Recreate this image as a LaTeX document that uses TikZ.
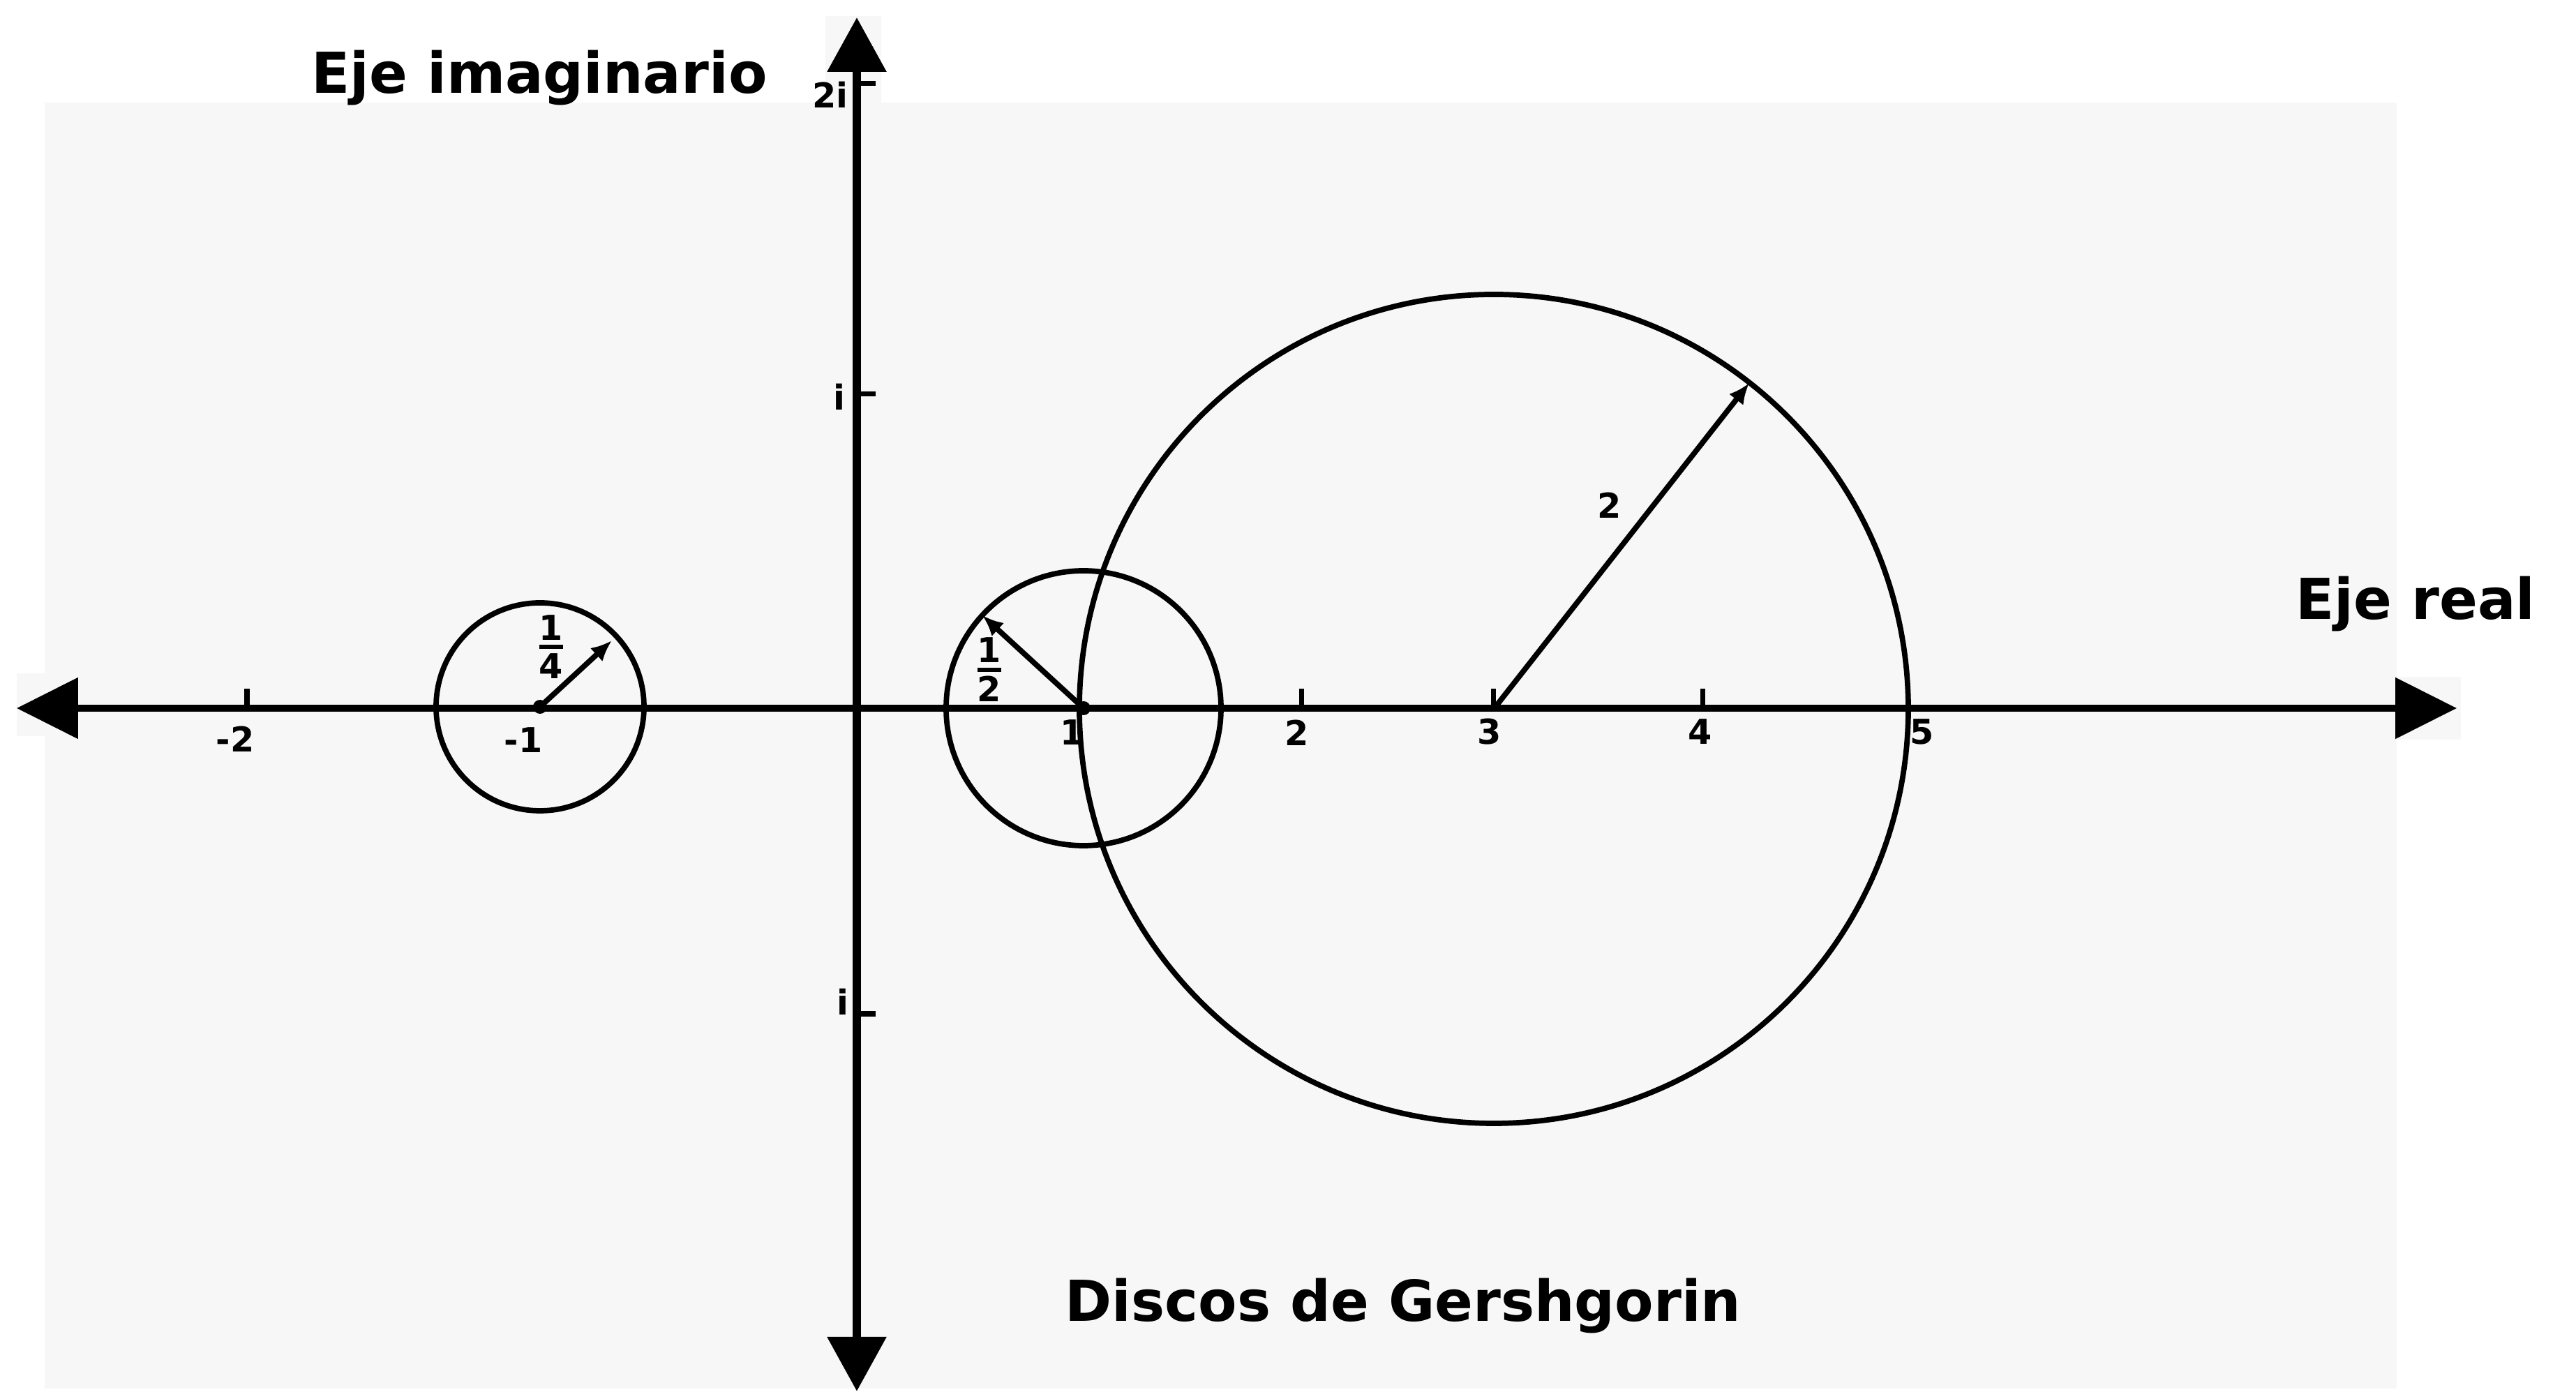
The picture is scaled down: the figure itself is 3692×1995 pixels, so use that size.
\documentclass[tikz,border=0pt]{standalone}
\usepackage{amsmath}
\usepackage{fontspec}
\setmainfont{DejaVu Sans}
\usepackage{tikz}
\usetikzlibrary{arrows.meta}
\definecolor{PlotPaper}{HTML}{F7F7F7}
\definecolor{PlotInk}{HTML}{000000}
\tikzset{
  paper/.style={fill=PlotPaper,draw=none},
  realaxis/.style={{Triangle[length=4.4mm,width=4.3mm]}-{Triangle[length=4.4mm,width=4.3mm]},line width=1.3pt,draw=PlotInk},
  imagaxis/.style={{Triangle[length=3.9mm,width=4.1mm]}-{Triangle[length=3.9mm,width=4.1mm]},line width=1.8pt,draw=PlotInk},
  disk/.style={draw=PlotInk,line width=1.1pt},
  radiusarrow/.style={-{Latex[length=1.5mm,width=1.3mm]},line width=1.1pt,draw=PlotInk},
  axistick/.style={draw=PlotInk,line width=1pt},
  ticklabel/.style={font=\fontsize{7}{8}\selectfont\bfseries,inner sep=0pt},
  fraclabel/.style={font=\fontsize{10}{11}\selectfont\bfseries,inner sep=0pt},
  axislabel/.style={font=\fontsize{11.5}{13}\selectfont\bfseries,inner sep=0pt,anchor=base},
  centerdot/.style={circle,fill=PlotInk,inner sep=0pt,minimum size=1mm}
}

\begin{document}
\begin{tikzpicture}[x=0.05mm,y=0.05mm]
  \useasboundingbox (-1228,-980) rectangle (2464,1015);

  % Scanned paper behind the plane.
  \fill[paper] (-1164,-975) rectangle (2207,868);
  \fill[paper] (-45,868) rectangle (35,992);
  \fill[paper] (2207,-45) rectangle (2299,45);
  \fill[paper] (-1204,-40) rectangle (-1164,50);

  % Axes of the complex plane.
  \coordinate (re-min) at (-1204,0);
  \coordinate (re-max) at (2293,0);
  \coordinate (im-min) at (0,-979);
  \coordinate (im-max) at (0,990);
  \draw[realaxis] (re-min) -- (re-max);
  \draw[imagaxis] (im-min) -- (im-max);

  \foreach \t in {-874,637,912,1212}
    \draw[axistick] (\t,0) -- ++(0,28);
  \foreach \t in {895,450,-438}
    \draw[axistick] (0,\t) -- ++(27,0);

  \node[ticklabel] (re-m2) at (-891,-44) {-2};
  \node[ticklabel] (re-m1) at (-478,-46) {-1};
  \node[ticklabel] (re-p1) at (309,-35) {1};
  \node[ticklabel] (re-p2) at (631,-35) {2};
  \node[ticklabel] (re-p3) at (907,-34) {3};
  \node[ticklabel] (re-p4) at (1209,-34) {4};
  \node[ticklabel] (re-p5) at (1527,-34) {5};
  \node[ticklabel] (im-p2) at (-38,879) {2i};
  \node[ticklabel] (im-p1) at (-25,446) {i};
  \node[ticklabel] (im-m1) at (-20,-421) {i};

  % Gershgorin discs with their radii.
  \coordinate (z-left) at (-454,2);
  \coordinate (z-mid) at (325,0);
  \coordinate (z-right) at (913,-1);
  \coordinate (w-left) at (-351,97);
  \coordinate (w-mid) at (180,133);
  \coordinate (w-right) at (1279,466);

  \draw[disk] (z-left) circle[radius=149];
  \draw[disk] (z-mid) circle[radius=197];
  \draw[disk] (z-right) circle[radius=594];

  \draw[radiusarrow] (z-left) -- (w-left);
  \draw[radiusarrow] (z-mid) -- (w-mid);
  \draw[radiusarrow] (z-right) -- (w-right);

  \node[centerdot] (dot-left) at (z-left) {};
  \node[centerdot] (dot-mid) at (z-mid) {};

  \node[fraclabel] (r-left) at (-438,88)
    {$\genfrac{}{}{0.9pt}{1}{\textbf{1}}{\textbf{4}}$};
  \node[fraclabel] (r-mid) at (190,55)
    {$\genfrac{}{}{0.9pt}{1}{\textbf{1}}{\textbf{2}}$};
  \node[ticklabel] (r-right) at (1079,291) {2};

  % Titles.
  \node[axislabel] (imag-label) at (-455,881) {Eje imaginario};
  \node[axislabel] (real-label) at (2234,127) {Eje real};
  \node[axislabel] (title) at (783,-879) {Discos de Gershgorin};
\end{tikzpicture}
\end{document}
